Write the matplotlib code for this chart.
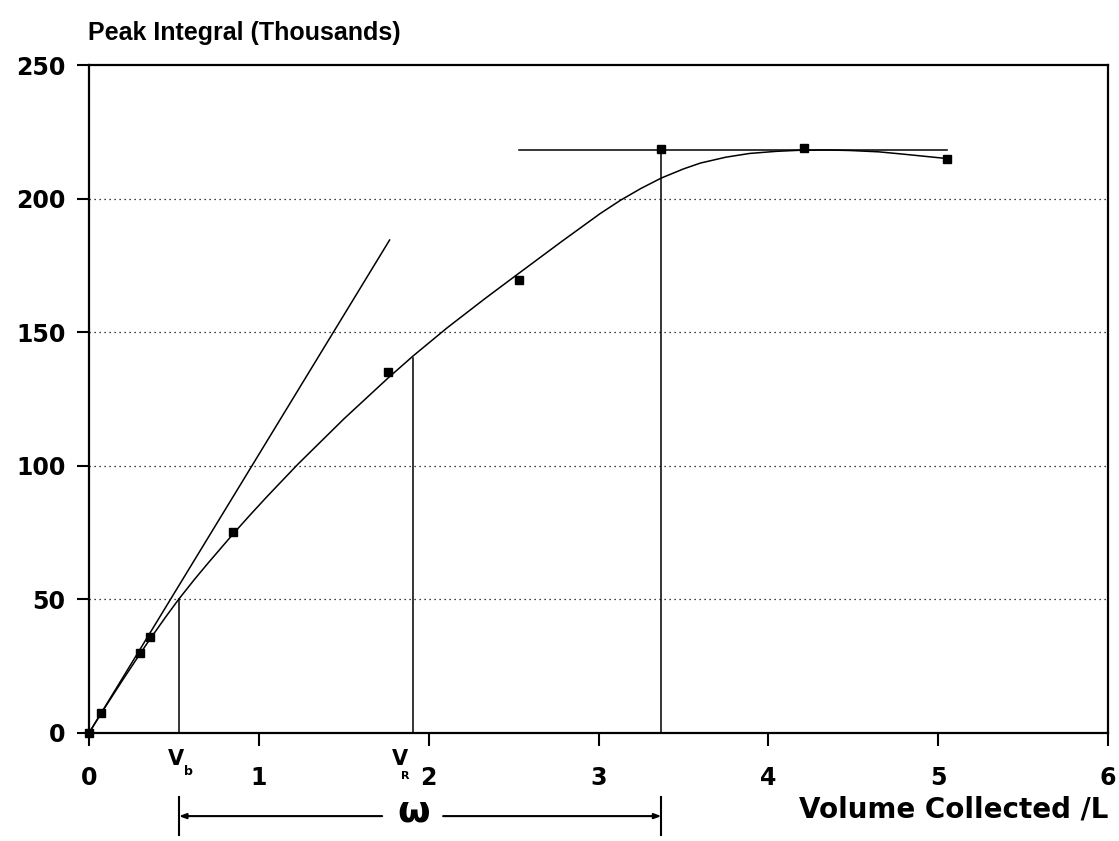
import matplotlib
matplotlib.use("Agg")
import matplotlib.pyplot as plt

plt.rcParams['font.family'] = ['DejaVu Sans']
plt.rcParams['font.weight'] = 'bold'

# Measured data points
vol = [0.0, 0.07, 0.30, 0.36, 0.85, 1.76, 2.53, 3.37, 4.21, 5.05]
integral = [0.0, 7.5, 30.0, 36.0, 75.2, 135.0, 169.5, 218.5, 219.0, 215.0]

# Smooth fitted curve (knots)
curve_x = [0.0, 0.07, 0.20, 0.30, 0.36, 0.45, 0.53, 0.62, 0.70, 0.85, 0.95, 1.05, 1.23, 1.50,
           1.76, 1.91, 2.11, 2.33, 2.53, 2.78, 3.01, 3.13, 3.25, 3.37, 3.50, 3.60,
           3.75, 3.89, 4.05, 4.19, 4.35, 4.48, 4.65, 4.80, 5.05]
curve_y = [0.0, 7.2, 20.0, 29.6, 35.2, 43.3, 50.2, 57.4, 63.5, 74.6, 81.7, 88.6, 100.6, 117.5,
           132.8, 141.2, 151.7, 162.5, 172.0, 183.8, 194.4, 199.4, 203.8, 207.7, 211.1, 213.3,
           215.5, 216.9, 217.7, 218.1, 218.2, 218.0, 217.5, 216.6, 215.0]

# Initial tangent line
tangent_x = [0.0, 1.77]
tangent_y = [0.0, 184.5]

# Plateau line
plateau_x = [2.53, 5.05]
plateau_y = [218.3, 218.3]

# Drop lines
vb = 0.53
vb_top = 50.0
vr = 1.91
vr_top = 140.4
vend = 3.37
vend_top = 218.5

xticks = [0, 1, 2, 3, 4, 5, 6]
yticks = [0, 50, 100, 150, 200, 250]

W, H = 1119, 841
fig = plt.figure(figsize=(W / 100, H / 100), dpi=100)
ax = fig.add_axes([89 / W, 1 - 733 / H, (1108 - 89) / W, (733 - 65) / H])
ax.set_xlim(0, 6)
ax.set_ylim(0, 250)

for s in ax.spines.values():
    s.set_linewidth(1.6)
    s.set_color('black')

ax.set_xticks(xticks)
ax.set_yticks(yticks)
ax.set_xticklabels([str(t) for t in xticks], fontsize=17, fontweight='bold')
ax.set_yticklabels([str(t) for t in yticks], fontsize=17, fontweight='bold')
ax.tick_params(axis='x', direction='out', length=9, width=1.5, pad=15)
ax.tick_params(axis='y', direction='out', length=9, width=1.5, pad=8)

for g in [50, 100, 150, 200]:
    ax.axhline(g, color='black', linestyle=(0, (1, 3)), linewidth=0.9, zorder=1)

lw = 1.1
ax.plot(curve_x, curve_y, color='black', linewidth=lw, zorder=3)
ax.plot(tangent_x, tangent_y, color='black', linewidth=lw, zorder=3)
ax.plot(plateau_x, plateau_y, color='black', linewidth=lw, zorder=3)
ax.plot([vb, vb], [0, vb_top], color='black', linewidth=lw, zorder=3)
ax.plot([vr, vr], [0, vr_top], color='black', linewidth=lw, zorder=3)
ax.plot([vend, vend], [0, vend_top], color='black', linewidth=lw, zorder=3)
ax.plot(vol, integral, linestyle='none', marker='s', markersize=5.5,
        color='black', zorder=4, clip_on=False)

# Labels V_b and V_R
ax.text(0.51, -9.9, 'V', fontsize=15, fontweight='bold', ha='center', va='center', clip_on=False)
ax.text(0.585, -14.4, 'b', fontsize=9, fontweight='bold', ha='center', va='center', clip_on=False)
ax.text(1.83, -9.9, 'V', fontsize=15, fontweight='bold', ha='center', va='center', clip_on=False)
ax.text(1.865, -16.1, 'R', fontsize=8, fontweight='bold', ha='center', va='center', clip_on=False)

# omega bracket
y_arrow = -31.1
ax.plot([vb, vb], [-24.0, -38.2], color='black', linewidth=1.5, clip_on=False)
ax.plot([vend, vend], [-24.0, -38.2], color='black', linewidth=1.5, clip_on=False)
ax.annotate('', xy=(vb, y_arrow), xytext=(1.726, y_arrow), xycoords='data',
            arrowprops=dict(arrowstyle='-|>,head_length=0.4,head_width=0.15',
                            color='black', linewidth=1.5, shrinkA=0, shrinkB=0),
            annotation_clip=False)
ax.annotate('', xy=(vend, y_arrow), xytext=(2.085, y_arrow), xycoords='data',
            arrowprops=dict(arrowstyle='-|>,head_length=0.4,head_width=0.15',
                            color='black', linewidth=1.5, shrinkA=0, shrinkB=0),
            annotation_clip=False)
ax.text(1.91, -29.2, 'ω', fontsize=27, fontweight='bold', ha='center', va='center',
        family=['DejaVu Sans'], clip_on=False)

fig.text(88 / W, 1 - 33 / H, 'Peak Integral (Thousands)', fontsize=18, fontweight='bold',
         ha='left', va='center', family=['Liberation Sans', 'DejaVu Sans'])
fig.text(1108 / W, 1 - 809 / H, 'Volume Collected /L', fontsize=20, fontweight='bold',
         ha='right', va='center')

fig.savefig('out.png', dpi=100)
